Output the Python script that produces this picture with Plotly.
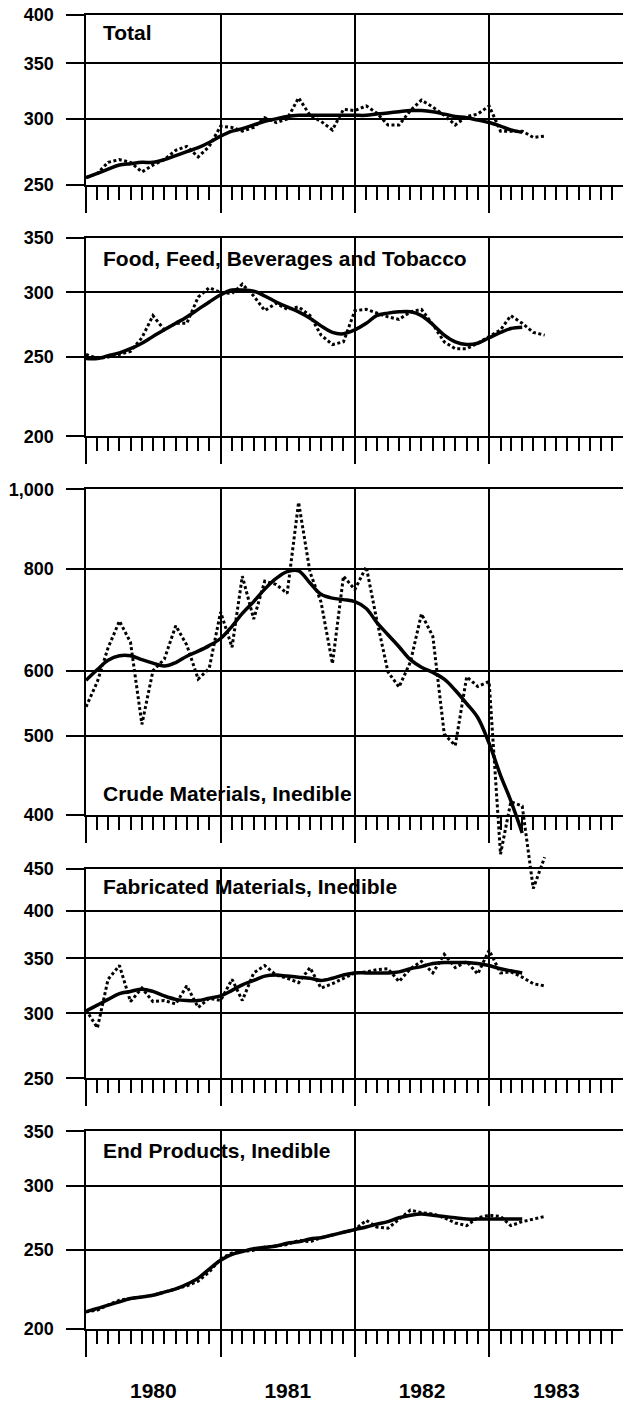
import math
import pandas as pd
import plotly.graph_objects as go

# ---------------- data (monthly, Jan 1980 onward) ----------------
months = pd.date_range("1980-01-01", periods=42, freq="MS").strftime("%Y-%m-%d").tolist()
trend_months = months[:40]

titles = ["Total", "Food, Feed, Beverages and Tobacco", "Crude Materials, Inedible",
          "Fabricated Materials, Inedible", "End Products, Inedible"]

total_monthly = [255, 258, 266, 268, 266, 259, 264, 268, 275, 278,
                 270, 278, 294, 293, 290, 293, 301, 297, 300, 318,
                 303, 298, 291, 308, 307, 311, 305, 295, 295, 307,
                 316, 310, 303, 295, 302, 304, 311, 290, 290, 290,
                 285, 286]
total_trend = [255, 258, 261, 264, 265, 266, 266, 268, 271, 274,
               277, 281, 286, 290, 292, 295, 298, 300, 302, 303,
               303, 303, 303, 303, 303, 303, 304, 305, 306, 307,
               307, 306, 304, 302, 301, 299, 297, 294, 291, 289]

food_monthly = [252, 249, 250, 252, 254, 264, 281, 270, 275, 275,
                296, 304, 300, 299, 307, 297, 285, 291, 286, 288,
                281, 266, 259, 261, 285, 286, 283, 280, 278, 284,
                286, 274, 261, 256, 256, 260, 265, 270, 281, 275,
                268, 266]
food_trend = [249, 249, 251, 253, 256, 260, 265, 270, 275, 280,
              286, 292, 298, 302, 302, 301, 297, 292, 288, 284,
              279, 273, 268, 267, 270, 275, 281, 283, 284, 284,
              281, 274, 266, 261, 259, 260, 264, 268, 271, 272]

crude_monthly = [542, 582, 640, 690, 650, 516, 600, 620, 681, 645,
                 586, 604, 708, 641, 783, 694, 772, 765, 746, 964,
                 792, 728, 612, 783, 754, 804, 694, 598, 573, 615,
                 704, 661, 502, 486, 590, 574, 582, 358, 415, 410,
                 325, 355]
crude_trend = [584, 602, 618, 626, 626, 619, 613, 608, 614, 625,
               634, 644, 657, 680, 705, 729, 755, 778, 793, 795,
               768, 744, 736, 733, 729, 715, 688, 664, 642, 619,
               606, 597, 586, 568, 547, 526, 489, 447, 416, 380]

fab_monthly = [303, 288, 330, 343, 310, 322, 310, 311, 308, 324,
               305, 313, 311, 330, 311, 336, 343, 334, 331, 327,
               341, 322, 326, 331, 336, 337, 339, 340, 328, 340,
               347, 336, 354, 341, 347, 335, 358, 336, 337, 332,
               326, 324]
fab_trend = [302, 307, 312, 317, 319, 321, 319, 315, 312, 311,
             311, 313, 315, 320, 325, 329, 333, 334, 333, 332,
             331, 329, 331, 334, 336, 336, 336, 336, 337, 340,
             342, 345, 346, 346, 346, 345, 343, 340, 338, 336]

end_monthly = [210, 211, 214, 217, 218, 219, 220, 222, 224, 226,
               229, 235, 244, 248, 249, 250, 252, 253, 254, 257,
               256, 259, 261, 263, 265, 272, 267, 266, 273, 280,
               278, 277, 274, 270, 268, 274, 276, 275, 268, 271,
               273, 275]
end_trend = [210, 212, 214, 216, 218, 219, 220, 222, 224, 227,
             231, 237, 243, 247, 249, 251, 252, 253, 255, 256,
             258, 259, 261, 263, 265, 267, 269, 271, 274, 276,
             277, 276, 275, 274, 273, 273, 273, 273, 273, 273]

tick_values = [
    [250, 300, 350, 400],
    [200, 250, 300, 350],
    [400, 500, 600, 800, 1000],
    [250, 300, 350, 400, 450],
    [200, 250, 300, 350],
]
tick_texts = [[f"{v:,}" for v in tv] for tv in tick_values]

monthly_series = [total_monthly, food_monthly, crude_monthly, fab_monthly, end_monthly]
trend_series = [total_trend, food_trend, crude_trend, fab_trend, end_trend]

# ---------------- layout geometry (pixels) ----------------
W, H = 623, 1402
ML, MR, MT, MB = 86, 0, 15, 71
PW = W - ML - MR
PH = H - MT - MB


def py(ypx):
    return (H - MB - ypx) / PH


panel_px = [(15, 185), (238, 437), (490, 816), (870, 1080), (1133, 1331)]
title_px = [33, 259, 795, 888, 1152]
crude_ext_bottom = 895  # crude series spills below its own axis

FONT = "Liberation Sans, Arial, Helvetica, sans-serif"
EPS = 1e-6
x_range = ["1980-01-01", "1983-12-31"]

fig = go.Figure()

for i in range(5):
    n = i + 1
    xa = "x" if n == 1 else f"x{n}"
    ya = "y" if n == 1 else f"y{n}"
    if i == 2:
        # crude: draw on an extended invisible axis so the lines may run below the frame
        tx, ty = "x6", "y6"
        fig.add_trace(go.Scatter(x=[months[0]], y=[None], xaxis=xa, yaxis=ya,
                                 mode="lines", showlegend=False, hoverinfo="skip"))
    else:
        tx, ty = xa, ya
    fig.add_trace(go.Scatter(x=months, y=monthly_series[i], xaxis=tx, yaxis=ty,
                             mode="lines", showlegend=False,
                             line=dict(color="black", width=3, dash="3px,2.5px")))
    fig.add_trace(go.Scatter(x=trend_months, y=trend_series[i], xaxis=tx, yaxis=ty,
                             mode="lines", showlegend=False, line_shape="spline",
                             line=dict(color="black", width=3.5)))

layout = dict(
    width=W, height=H,
    margin=dict(l=ML, r=MR, t=MT, b=MB, pad=0),
    paper_bgcolor="white", plot_bgcolor="rgba(0,0,0,0)",
    font=dict(family=FONT, color="black", size=17, weight="bold"),
    showlegend=False,
    annotations=[],
)

for i in range(5):
    n = i + 1
    xk = "xaxis" if n == 1 else f"xaxis{n}"
    yk = "yaxis" if n == 1 else f"yaxis{n}"
    top, bot = panel_px[i]
    tv = tick_values[i]
    layout[xk] = dict(
        type="date", range=x_range, domain=[0, 1], anchor="y" if n == 1 else f"y{n}",
        showgrid=True, gridcolor="black", gridwidth=2,
        dtick="M12", tick0="1980-01-01",
        ticks="outside", ticklen=26, tickwidth=2, tickcolor="black",
        minor=dict(dtick="M1", ticks="outside", ticklen=13, tickwidth=2,
                   tickcolor="black", showgrid=False),
        showline=True, linecolor="black", linewidth=2, mirror=True,
        zeroline=False,
        showticklabels=(n == 5), ticklabelmode="period", tickformat="%Y",
        tickfont=dict(family=FONT, size=21, color="black", weight="bold"),
        ticklabelstandoff=16,
    )
    layout[yk] = dict(
        type="log", domain=[py(bot), py(top)],
        range=[math.log10(min(tv)) - EPS, math.log10(max(tv)) + EPS],
        anchor="x" if n == 1 else f"x{n}",
        tickmode="array", tickvals=tv, ticktext=tick_texts[i],
        ticks="outside", ticklen=18, tickwidth=2, tickcolor="black",
        showgrid=True, gridcolor="black", gridwidth=2,
        showline=True, linecolor="black", linewidth=2.5,
        zeroline=False,
        tickfont=dict(family=FONT, size=18, color="black", weight="bold"),
        ticklabelstandoff=8,
    )
    layout["annotations"].append(dict(
        text=titles[i], xref="paper", yref="paper",
        x=(101 - ML) / PW, y=py(title_px[i]), xanchor="left", yanchor="middle",
        showarrow=False, font=dict(family=FONT, size=21, color="black", weight="bold"),
    ))

# extended axis for the crude series (same ratio scale as panel 3)
c_top, c_bot = panel_px[2]
c_lo, c_hi = math.log10(min(tick_values[2])), math.log10(max(tick_values[2]))
px_per_dec = (c_bot - c_top) / (c_hi - c_lo)
ext_lo = c_lo - (crude_ext_bottom - c_bot) / px_per_dec
layout["xaxis6"] = dict(type="date", range=x_range, domain=[0, 1], anchor="y6", visible=False)
layout["yaxis6"] = dict(type="log", range=[ext_lo, c_hi + EPS], domain=[py(crude_ext_bottom), py(c_top)],
                        anchor="x6", visible=False)

fig.update_layout(**layout)
fig.write_html("out.html",
               config={"displayModeBar": False, "staticPlot": True},
               post_script="document.body.style.margin='0';document.body.style.overflow='hidden';")
